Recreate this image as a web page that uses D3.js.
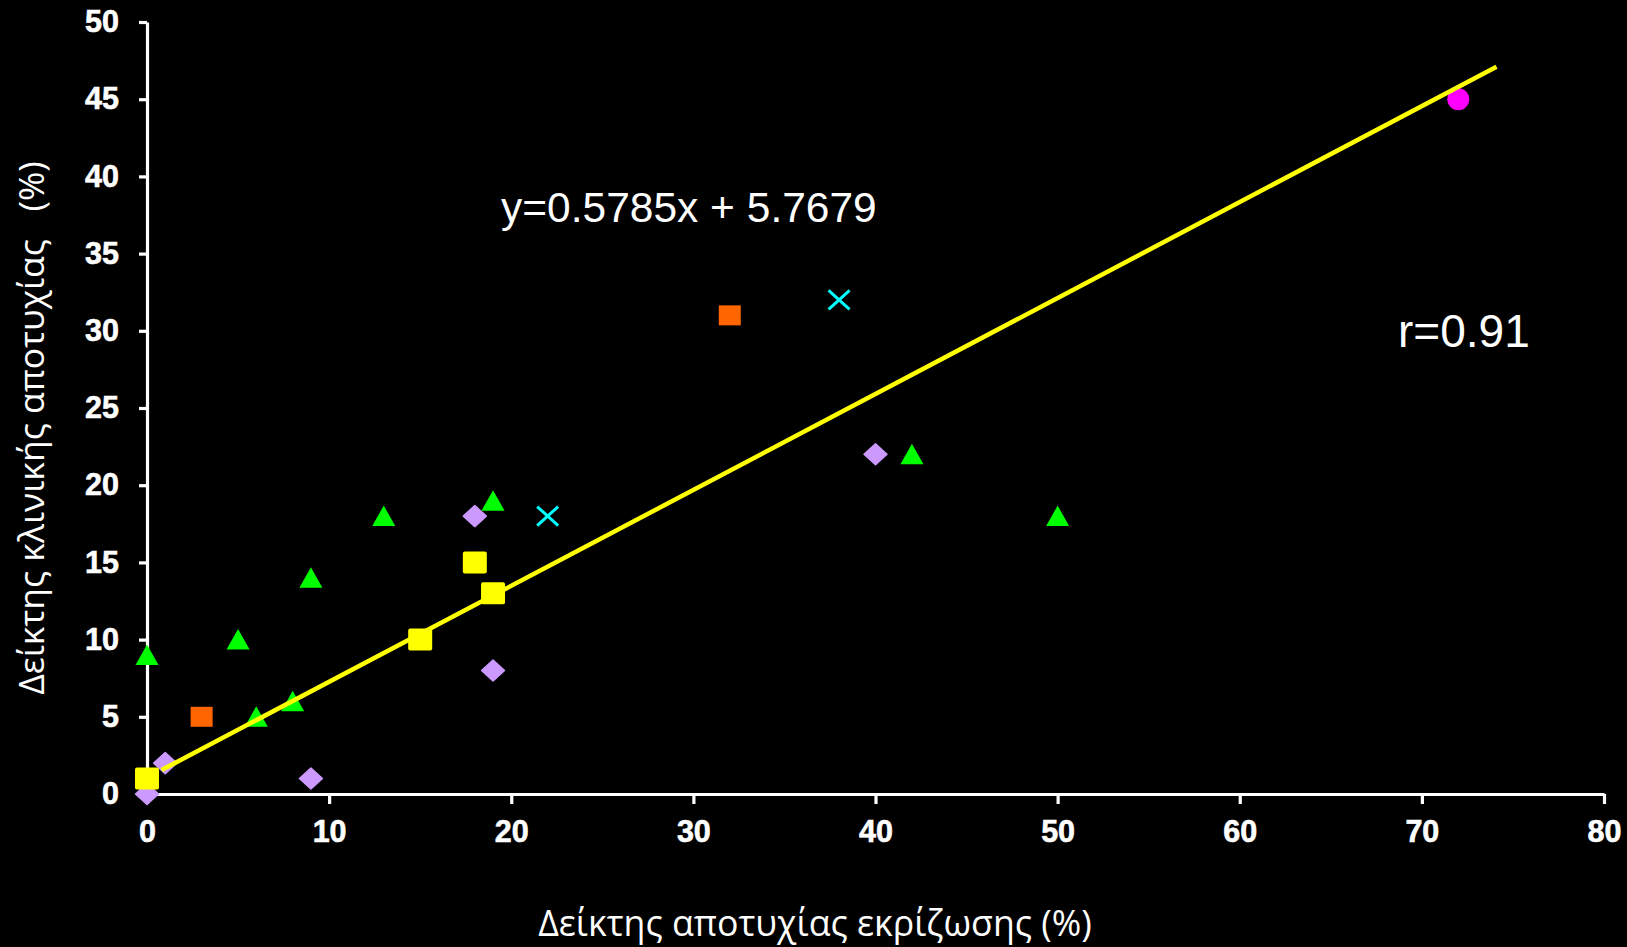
<!DOCTYPE html>
<html>
<head>
<meta charset="utf-8">
<script src="https://cdn.jsdelivr.net/npm/d3@7"></script>
<style>
  html, body { margin: 0; padding: 0; background: #000; }
  svg { display: block; }
</style>
</head>
<body>
<svg id="chart" width="1627" height="947"></svg>
<script>
(function () {
// ---- data ----
const xTicks = [0, 10, 20, 30, 40, 50, 60, 70, 80];
const yTicks = [0, 5, 10, 15, 20, 25, 30, 35, 40, 45, 50];

const diamondX = [0, 1, 9, 18, 19, 40];
const diamondY = [0, 2, 1, 18, 8, 22];

const triangleX = [0, 5, 6, 8, 9, 13, 19, 42, 50];
const triangleY = [9, 10, 5, 6, 14, 18, 19, 22, 18];

const orangeX = [3, 32];
const orangeY = [5, 31];

const crossX = [22, 38];
const crossY = [18, 32];

const circleX = [72];
const circleY = [45];

const yellowX = [0, 15, 18, 19];
const yellowY = [1, 10, 15, 13];

// trend line as drawn in the picture (end points)
const trendX = [0.8, 74.1];
const trendY = [1.55, 47.1];

const equationText = "y=0.5785x + 5.7679";
const rText = "r=0.91";
const xTitle = "Δείκτης αποτυχίας εκρίζωσης (%)";
const yTitle = "Δείκτης κλινικής αποτυχίας   (%)";

// ---- layout ----
const svg = d3.select("#chart");
const mLeft = 147, mRight = 1604, mTop = 22, mBottom = 794;

const x = d3.scaleLinear().domain([0, 80]).range([mLeft, mRight]);
const y = d3.scaleLinear().domain([0, 50]).range([mBottom, mTop]);

svg.append("rect").attr("width", 1627).attr("height", 947).attr("fill", "#000");

// axes
const xAxis = d3.axisBottom(x).tickValues(xTicks).tickSize(10).tickPadding(16).tickSizeOuter(0);
const yAxis = d3.axisLeft(y).tickValues(yTicks).tickSize(8).tickPadding(20).tickSizeOuter(0);

const gx = svg.append("g").attr("transform", `translate(0,${mBottom})`).call(xAxis);
const gy = svg.append("g").attr("transform", `translate(${mLeft},0)`).call(yAxis);

[gx, gy].forEach(g => {
  g.select(".domain").attr("stroke", "#fff").attr("stroke-width", 3.2);
  g.selectAll(".tick line").attr("stroke", "#fff").attr("stroke-width", 3.2);
  g.selectAll(".tick text")
    .attr("fill", "#fff")
    .attr("stroke", "#fff").attr("stroke-width", 0.6)
    .style("font-family", "'Liberation Sans', Arial, sans-serif")
    .style("font-weight", "bold")
    .style("font-size", "30.5px");
});

// markers
const tri = "M0,-10.5L11.5,10L-11.5,10Z";
const dia = "M0,-10.5L11.5,0L0,10.5L-11.5,0Z";

svg.append("g").selectAll("path")
  .data(diamondX.map((d, i) => [d, diamondY[i]]))
  .join("path")
  .attr("d", dia)
  .attr("transform", d => `translate(${x(d[0])},${y(d[1])})`)
  .attr("fill", "#CC99FF")
  .attr("stroke", "#CC99FF").attr("stroke-width", 1.5).attr("stroke-linejoin", "round");

svg.append("g").selectAll("path")
  .data(triangleX.map((d, i) => [d, triangleY[i]]))
  .join("path")
  .attr("d", tri)
  .attr("transform", d => `translate(${x(d[0])},${y(d[1])})`)
  .attr("fill", "#00FF00");

svg.append("g").selectAll("rect")
  .data(orangeX.map((d, i) => [d, orangeY[i]]))
  .join("rect")
  .attr("x", d => x(d[0]) - 11)
  .attr("y", d => y(d[1]) - 10)
  .attr("width", 22).attr("height", 20)
  .attr("fill", "#FF6600");

const gc = svg.append("g").selectAll("g")
  .data(crossX.map((d, i) => [d, crossY[i]]))
  .join("g")
  .attr("transform", d => `translate(${x(d[0])},${y(d[1])})`);
gc.append("line").attr("x1", -10.5).attr("y1", -9.5).attr("x2", 10.5).attr("y2", 9.5)
  .attr("stroke", "#00FFFF").attr("stroke-width", 3);
gc.append("line").attr("x1", -10.5).attr("y1", 9.5).attr("x2", 10.5).attr("y2", -9.5)
  .attr("stroke", "#00FFFF").attr("stroke-width", 3);

svg.append("g").selectAll("circle")
  .data(circleX.map((d, i) => [d, circleY[i]]))
  .join("circle")
  .attr("cx", d => x(d[0]))
  .attr("cy", d => y(d[1]))
  .attr("r", 11)
  .attr("fill", "#FF00FF");

// trend line
svg.append("path")
  .datum(trendX.map((d, i) => [d, trendY[i]]))
  .attr("d", d3.line().x(d => x(d[0])).y(d => y(d[1])))
  .attr("stroke", "#FFFF00")
  .attr("stroke-width", 4.5)
  .attr("fill", "none");

svg.append("g").selectAll("rect")
  .data(yellowX.map((d, i) => [d, yellowY[i]]))
  .join("rect")
  .attr("x", d => x(d[0]) - 12)
  .attr("y", d => y(d[1]) - 11)
  .attr("width", 24).attr("height", 22)
  .attr("rx", 2)
  .attr("fill", "#FFFF00");

// annotations
svg.append("text")
  .attr("x", 501).attr("y", 222)
  .attr("fill", "#fff")
  .style("font-family", "'Liberation Sans', Arial, sans-serif")
  .style("font-size", "42.5px")
  .text(equationText);

svg.append("text")
  .attr("x", 1398).attr("y", 347)
  .attr("fill", "#fff")
  .style("font-family", "'Liberation Sans', Arial, sans-serif")
  .style("font-size", "46px")
  .text(rText);

// axis titles
svg.append("text")
  .attr("x", 815).attr("y", 936)
  .attr("text-anchor", "middle")
  .attr("fill", "#fff")
  .style("font-family", "'Open Sans', 'Noto Sans', sans-serif")
  .style("font-size", "35.7px")
  .text(xTitle);

svg.append("text")
  .attr("transform", "translate(44,428) rotate(-90)")
  .attr("text-anchor", "middle")
  .attr("fill", "#fff")
  .style("font-family", "'Open Sans', 'Noto Sans', sans-serif")
  .style("font-size", "35.5px")
  .style("white-space", "pre")
  .text(yTitle);
})();
</script>
</body>
</html>
